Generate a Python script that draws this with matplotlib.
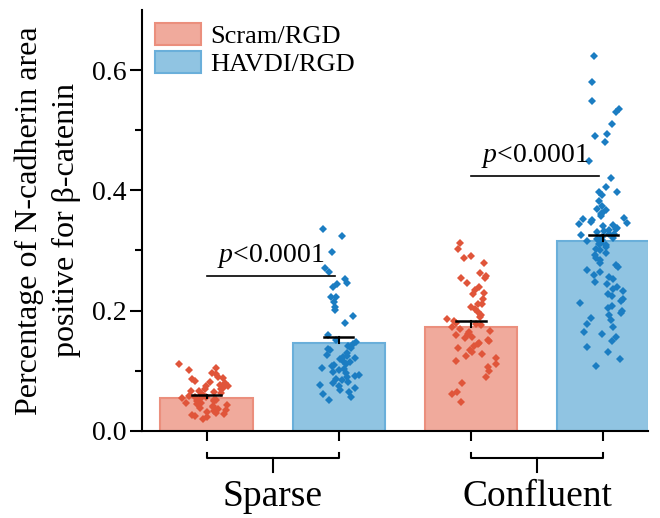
import numpy as np
import matplotlib
matplotlib.use("Agg")
import matplotlib.pyplot as plt
from matplotlib.patches import Patch

plt.rcParams["font.family"] = ["Liberation Serif", "DejaVu Serif"]
plt.rcParams["mathtext.fontset"] = "custom"
plt.rcParams["mathtext.rm"] = "Liberation Serif"
plt.rcParams["mathtext.it"] = "Liberation Serif:italic"

groups = ["Sparse", "Confluent"]
conditions = ["Scram/RGD", "HAVDI/RGD"]
means = [0.055, 0.147, 0.173, 0.315]
sems = [0.004, 0.010, 0.009, 0.010]

sparseScram = [0.111, 0.104, 0.101, 0.097, 0.094, 0.090, 0.088, 0.086, 0.083, 0.081, 0.079, 0.077,
               0.075, 0.074, 0.072, 0.070, 0.069, 0.067, 0.066, 0.064, 0.063, 0.062, 0.060, 0.059,
               0.058, 0.057, 0.056, 0.055, 0.054, 0.052, 0.051, 0.050, 0.049, 0.047, 0.046, 0.045,
               0.043, 0.042, 0.040, 0.039, 0.037, 0.035, 0.034, 0.032, 0.030, 0.029, 0.027, 0.025,
               0.023, 0.020]
sparseHavdi = [0.336, 0.324, 0.297, 0.271, 0.264, 0.253, 0.246, 0.244, 0.239, 0.223, 0.222, 0.214,
               0.206, 0.201, 0.191, 0.179, 0.160, 0.152, 0.148, 0.145, 0.141, 0.138, 0.137, 0.134,
               0.130, 0.127, 0.125, 0.123, 0.121, 0.119, 0.116, 0.115, 0.112, 0.110, 0.108, 0.105,
               0.103, 0.101, 0.098, 0.096, 0.093, 0.091, 0.089, 0.087, 0.085, 0.082, 0.080, 0.077,
               0.074, 0.072, 0.068, 0.065, 0.061, 0.057, 0.052]
confScram = [0.312, 0.303, 0.291, 0.287, 0.280, 0.263, 0.258, 0.255, 0.254, 0.246, 0.240, 0.234,
             0.229, 0.227, 0.220, 0.211, 0.211, 0.206, 0.202, 0.197, 0.193, 0.190, 0.186, 0.183,
             0.180, 0.178, 0.176, 0.172, 0.170, 0.167, 0.165, 0.162, 0.160, 0.157, 0.155, 0.152,
             0.150, 0.147, 0.144, 0.141, 0.138, 0.135, 0.131, 0.128, 0.125, 0.121, 0.117, 0.112,
             0.106, 0.099, 0.089, 0.080, 0.065, 0.061, 0.048]
confHavdi = [0.623, 0.580, 0.549, 0.535, 0.530, 0.510, 0.494, 0.490, 0.481, 0.449, 0.420, 0.406,
             0.398, 0.398, 0.392, 0.382, 0.374, 0.369, 0.367, 0.362, 0.361, 0.357, 0.354, 0.352,
             0.350, 0.348, 0.346, 0.344, 0.342, 0.340, 0.338, 0.336, 0.334, 0.332, 0.330, 0.328,
             0.327, 0.325, 0.323, 0.321, 0.319, 0.317, 0.315, 0.313, 0.311, 0.309, 0.306, 0.303,
             0.300, 0.296, 0.292, 0.288, 0.284, 0.280, 0.276, 0.272, 0.268, 0.264, 0.260, 0.256,
             0.252, 0.248, 0.244, 0.240, 0.236, 0.232, 0.228, 0.224, 0.220, 0.216, 0.212, 0.208,
             0.204, 0.200, 0.196, 0.192, 0.188, 0.184, 0.178, 0.172, 0.165, 0.162, 0.156, 0.150,
             0.140, 0.131, 0.120, 0.108]
points = [sparseScram, sparseHavdi, confScram, confHavdi]
pLabels = ["$p$<0.0001", "$p$<0.0001"]

barFill = ["#F0AA9C", "#90C4E2"]
barEdge = ["#EB8F7D", "#6AAFDA"]
dotColor = ["#E0553A", "#1B7DC2"]

fig = plt.figure(figsize=(6.6, 5.18), dpi=100)
ax = fig.add_axes([0.215, 0.168, 0.767, 0.813])

x = np.arange(4)
for i in range(4):
    c = i % 2
    ax.bar(x[i], means[i], width=0.7, color=barFill[c], edgecolor=barEdge[c], linewidth=1.5, zorder=1)
    vals = np.array(points[i])
    # pseudo-random horizontal jitter
    n = np.arange(len(vals))
    u = (np.sin(n * 12.9898 + i * 78.233) * 43758.5453) % 1 - 0.5
    v = (np.sin(n * 4.1414 + i * 19.19) * 2345.678) % 1 - 0.5
    jitter = (u + v) * 0.21
    ax.plot(x[i] + jitter, vals, "D", color=dotColor[c], markersize=3.8, markeredgewidth=0, zorder=2)
    # upper error bar only
    top = means[i] + sems[i]
    ax.plot([x[i], x[i]], [means[i], top], color="black", linewidth=1.5, zorder=3)
    ax.plot([x[i] - 0.11, x[i] + 0.11], [top, top], color="black", linewidth=1.8, zorder=3)

# significance lines
for k, (a, b, h) in enumerate([(0, 0.97, 0.258), (2, 2.97, 0.424)]):
    ax.plot([a, b], [h, h], color="black", linewidth=1.2)
    ax.text((a + b) / 2, h + 0.01, pLabels[k], ha="center", va="bottom", fontsize=20)

# group brackets below the axis
for g, (a, b) in enumerate([(0, 1), (2, 3)]):
    ax.plot([a, a, b, b], [-0.036, -0.045, -0.045, -0.036], color="black", linewidth=1.5, clip_on=False)
    ax.plot([(a + b) / 2] * 2, [-0.045, -0.068], color="black", linewidth=1.5, clip_on=False)
    ax.text((a + b) / 2, -0.080, groups[g], ha="center", va="top", fontsize=27)

ax.set_xlim(-0.49, 3.34)
ax.set_ylim(0, 0.7)
ax.set_xticks(x)
ax.set_xticklabels([])
ax.set_yticks([0.0, 0.2, 0.4, 0.6])
ax.set_yticks([0.1, 0.3, 0.5], minor=True)
ax.tick_params(axis="y", which="major", length=9, width=1.5, labelsize=20, pad=2, direction="out")
ax.tick_params(axis="y", which="minor", length=5, width=1.5, direction="out")
ax.tick_params(axis="x", length=7, width=1.5, direction="out")
for s in ["top", "right"]:
    ax.spines[s].set_visible(False)
for s in ["left", "bottom"]:
    ax.spines[s].set_linewidth(1.5)

ax.set_ylabel("Percentage of N-cadherin area\npositive for β-catenin", fontsize=23, linespacing=1.35, labelpad=8)

handles = [Patch(facecolor=barFill[i], edgecolor=barEdge[i], linewidth=1.5, label=conditions[i]) for i in range(2)]
ax.legend(handles=handles, loc="upper left", bbox_to_anchor=(0.0, 1.0), frameon=False, fontsize=19,
          handlelength=1.75, handleheight=0.9, handletextpad=0.35, labelspacing=0.1, borderaxespad=0.1)

fig.savefig("out.png", dpi=100)
